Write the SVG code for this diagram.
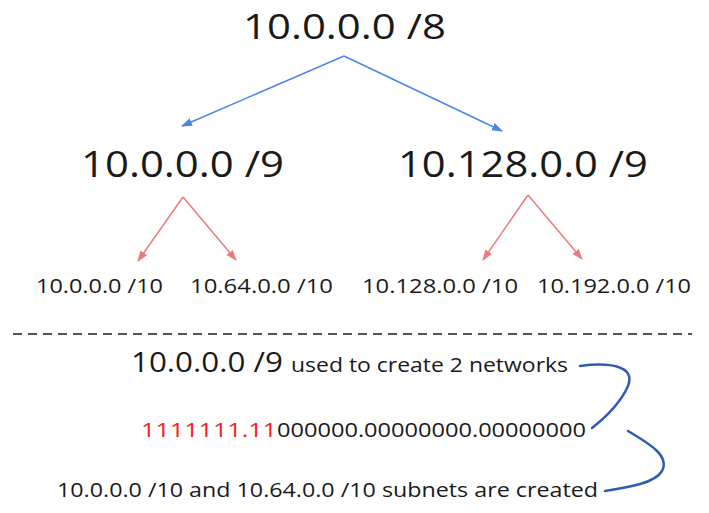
<svg xmlns="http://www.w3.org/2000/svg" width="709" height="513" viewBox="0 0 709 513">
<style>
text{font-family:"Open Sans","Noto Sans",sans-serif;fill:#1a1a1a}
.big{font-size:36px}
.top{font-size:35px}
.mid{font-size:28px}
.sm{font-size:20px}
.blue{stroke:#4a86e8;stroke-width:1.5;fill:none}
.red{stroke:#ea7a7e;stroke-width:1.5;fill:none}
.curve{stroke:#2f5cb3;stroke-width:2.5;fill:none;stroke-linecap:round}
</style>
<defs>
<marker id="ab" markerUnits="userSpaceOnUse" markerWidth="12" markerHeight="10" refX="10" refY="4" orient="auto"><path d="M0,0 L11,4 L0,8 Z" fill="#4a86e8"/></marker>
<marker id="ar" markerUnits="userSpaceOnUse" markerWidth="12" markerHeight="10" refX="10" refY="4" orient="auto"><path d="M0,0 L11,4 L0,8 Z" fill="#ea7a7e"/></marker>
</defs>
<rect width="709" height="513" fill="#ffffff"/>
<g id="n-root"><text class="top" x="243" y="39" textLength="203" lengthAdjust="spacingAndGlyphs">10.0.0.0 /8</text></g>
<g id="n-a"><text class="big" x="81" y="177" textLength="203" lengthAdjust="spacingAndGlyphs">10.0.0.0 /9</text></g>
<g id="n-b"><text class="big" x="398" y="177" textLength="250" lengthAdjust="spacingAndGlyphs">10.128.0.0 /9</text></g>
<g id="n-a1"><text class="sm" x="36" y="293" textLength="127" lengthAdjust="spacingAndGlyphs">10.0.0.0 /10</text></g>
<g id="n-a2"><text class="sm" x="190" y="293" textLength="143" lengthAdjust="spacingAndGlyphs">10.64.0.0 /10</text></g>
<g id="n-b1"><text class="sm" x="362" y="293" textLength="156" lengthAdjust="spacingAndGlyphs">10.128.0.0 /10</text></g>
<g id="n-b2"><text class="sm" x="537" y="293" textLength="154" lengthAdjust="spacingAndGlyphs">10.192.0.0 /10</text></g>
<g id="connectors">
<line class="blue" x1="344" y1="56" x2="182" y2="126" marker-end="url(#ab)"/>
<line class="blue" x1="344" y1="56" x2="502" y2="131" marker-end="url(#ab)"/>
<line class="red" x1="183" y1="197" x2="138" y2="261" marker-end="url(#ar)"/>
<line class="red" x1="183" y1="197" x2="236" y2="260" marker-end="url(#ar)"/>
<line class="red" x1="528" y1="195" x2="483" y2="260" marker-end="url(#ar)"/>
<line class="red" x1="528" y1="195" x2="582" y2="259" marker-end="url(#ar)"/>
<path class="curve" d="M580,366 C610,362 636,366 628,386 C621,402 606,417 592,428"/>
<path class="curve" d="M628,431 C650,444 670,456 662,471 C655,483 630,487 605,491"/>
</g>
<g id="divider"><line x1="13" y1="334" x2="692" y2="334" stroke="#555" stroke-width="2" stroke-dasharray="9,6"/></g>
<g id="notes">
<text x="131" y="372"><tspan class="mid" textLength="152" lengthAdjust="spacingAndGlyphs">10.0.0.0 /9</tspan><tspan class="sm" x="291" textLength="277" lengthAdjust="spacingAndGlyphs">used to create 2 networks</tspan></text>
<text class="sm" x="141" y="437"><tspan style="fill:#ff1a1a" textLength="136" lengthAdjust="spacingAndGlyphs">1111111.11</tspan><tspan x="277" textLength="309" lengthAdjust="spacingAndGlyphs">000000.00000000.00000000</tspan></text>
<text class="sm" x="57" y="497" textLength="541" lengthAdjust="spacingAndGlyphs">10.0.0.0 /10 and 10.64.0.0 /10 subnets are created</text>
</g>
</svg>
